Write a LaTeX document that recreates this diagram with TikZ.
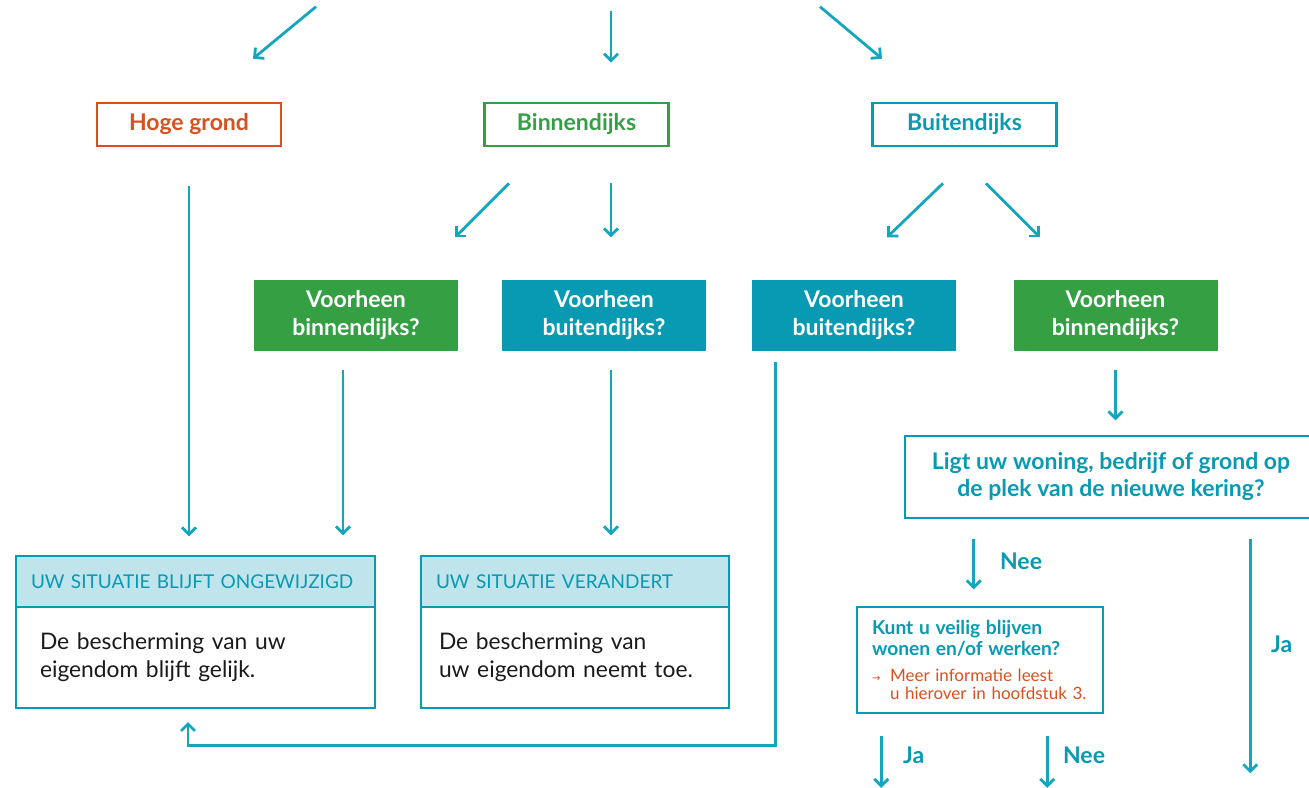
\documentclass[tikz,border=0pt]{standalone}
\usepackage{fontspec}
\setmainfont{Lato}
\newfontfamily\pijlfont{DejaVu Sans}
\usetikzlibrary{arrows.meta,calc,positioning}

\definecolor{oranje}{HTML}{D9501E}
\definecolor{groen}{HTML}{34A043}
\definecolor{blauw}{HTML}{0899B3}
\definecolor{pijlkleur}{HTML}{14A5BF}
\definecolor{lichtblauw}{HTML}{BFE4EB}
\definecolor{tekst}{HTML}{1A1A1A}

\tikzset{
	pijl/.style={draw=pijlkleur, line width=1.4pt, -{Straight Barb[length=3.5pt,width=7pt]}},
	keuze/.style={draw, line width=1.3pt, minimum width=92pt, minimum height=21.5pt, font=\bfseries\fontsize{11.5}{13}\selectfont},
	vraag/.style={fill, text=white, minimum width=102pt, minimum height=35.5pt, align=center, font=\bfseries\fontsize{11.5}{14}\selectfont},
	kop/.style={draw=blauw, fill=lichtblauw, text=blauw, line width=1pt, outer sep=0pt, minimum height=25.5pt, inner xsep=7.5pt, align=left, font=\fontsize{9.5}{11}\selectfont},
	romp/.style={draw=blauw, line width=0.8pt, outer sep=0pt, minimum height=50.5pt, inner xsep=12pt, align=left, text=tekst, font=\fontsize{11.4}{14}\selectfont},
	lbl/.style={text=blauw, font=\bfseries\fontsize{11.5}{13}\selectfont}
}

\begin{document}
\begin{tikzpicture}[x=0.5pt,y=-0.5pt]
	\path[use as bounding box, clip] (0,0) rectangle (1309,787);

	% eerste keuze
	\node[keuze, draw=oranje, text=oranje] (hoog) at (189,124.5) {Hoge grond};
	\node[keuze, draw=groen, text=groen] (binnen) at (576.5,124.5) {Binnendijks};
	\node[keuze, draw=blauw, text=blauw] (buiten) at (964.5,124.5) {Buitendijks};

	\draw[pijl] (hoog.north)+(127,-95) -- +(64,-43);
	\draw[pijl] (binnen.north)+(34.5,-91) -- +(34.5,-39);
	\draw[pijl] (buiten.north)+(-144.5,-95) -- +(-82.5,-43);

	% voorheen
	\node[vraag, fill=groen] (vb1) at (356,315.5) {Voorheen\\binnendijks?};
	\node[vraag, fill=blauw] (vb2) at (604,315.5) {Voorheen\\buitendijks?};
	\node[vraag, fill=blauw] (vb3) at (854,315.5) {Voorheen\\buitendijks?};
	\node[vraag, fill=groen] (vb4) at (1115.5,315.5) {Voorheen\\binnendijks?};

	\draw[pijl] (binnen.south)+(-67.5,36) -- +(-121.5,90);
	\draw[pijl] (binnen.south)+(34.5,36) -- +(34.5,90);
	\draw[pijl] (buiten.south)+(-21.5,36) -- +(-77.5,90);
	\draw[pijl] (buiten.south)+(21.5,36) -- +(75.5,90);

	% uitkomst
	\node[kop, text width=164.5pt] (kop1) at (195.5,581.5) {UW SITUATIE BLIJFT ONGEWIJZIGD};
	\node[romp, text width=155.5pt, below=0pt of kop1] (romp1) {De bescherming van uw\\eigendom blijft gelijk.};
	\node[kop, text width=139pt] (kop2) at (575,581.5) {UW SITUATIE VERANDERT};
	\node[romp, inner xsep=9pt, text width=136pt, below=0pt of kop2] (romp2) {De bescherming van\\uw eigendom neemt toe.};

	\draw[pijl] (hoog.south)+(0,39) -- +(0,389);
	\draw[pijl] (vb1.south)+(-13,19) -- +(-13,184);
	\draw[pijl] (vb2.south)+(7,19) -- +(7,184);
	\draw[pijl] ($(vb3.south west)+(24,11)$) -- ++(0,383) -| ($(romp1.south)+(-7.5,14)$);

	% kering
	\node[draw=blauw, line width=1.3pt, minimum width=206pt, minimum height=41pt, align=center, text=blauw, font=\bfseries\fontsize{11.5}{13.5}\selectfont] (ligt) at (1111,477) {Ligt uw woning, bedrijf of grond op\\de plek van de nieuwe kering?};
	\draw[pijl] (vb4.south)+(0,19) -- +(0,69);

	\node[draw=blauw, line width=0.8pt, minimum width=123pt, minimum height=53pt, text width=108pt, inner xsep=7.5pt, align=left, font=\fontsize{8.5}{10.5}\selectfont] (kunt) at (980,660)
		{{\color{blauw}\bfseries\fontsize{9.6}{10.5}\selectfont Kunt u veilig blijven\\wonen en/of werken?}\\[2.5pt]
		 {\color{oranje}\fontsize{8.5}{10.5}\selectfont\makebox[9pt][l]{\pijlfont\fontsize{5}{9}\selectfont →}Meer informatie leest\\[-1.5pt]\hspace*{9pt}u hierover in hoofdstuk 3.}};

	\draw[pijl] (ligt.south west)+(70,20) -- +(70,70);
	\node[lbl, anchor=west] (nee1) at (993,561) {Nee};
	\draw[pijl] (ligt.south east)+(-68,20) -- +(-68,254);
	\node[lbl, anchor=west] (ja1) at (1264,644) {Ja};

	\draw[pijl] (kunt.south west)+(25,22) -- +(25,74);
	\node[lbl, anchor=west] (ja2) at (896,755) {Ja};
	\draw[pijl] (kunt.south west)+(191,22) -- +(191,74);
	\node[lbl, anchor=west] (nee2) at (1056,755) {Nee};
\end{tikzpicture}
\end{document}
